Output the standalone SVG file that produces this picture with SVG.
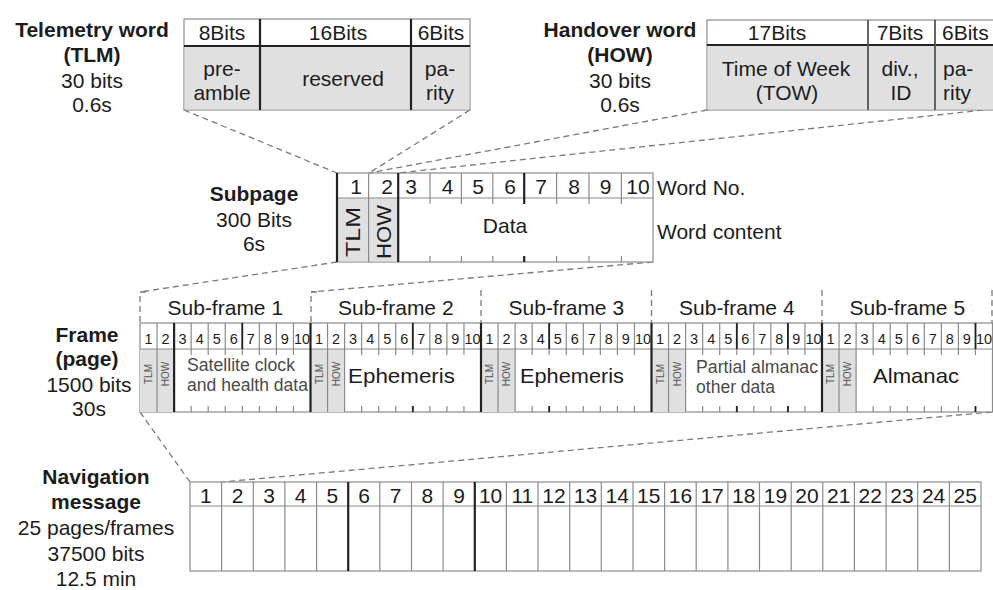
<svg xmlns="http://www.w3.org/2000/svg" xmlns:xlink="http://www.w3.org/1999/xlink" width="993" height="590" viewBox="0 0 993 590">
  <style>
    text { font-family: "Liberation Sans", Arial, sans-serif; fill: #1c1c1c; }
    .b { font-weight: bold; }
    .f21 { font-size: 21px; }
    .c { text-anchor: middle; }
    .sm { font-size: 14.5px; fill: #444; }
    .tiny { font-size: 10px; fill: #555; }
    .grey { fill: #4a4a4a; }
    .thin { stroke: #8a8a8a; stroke-width: 1.2; fill: none; }
    .thick { stroke: #222; stroke-width: 2.2; fill: none; }
    .dash { stroke: #7a7a7a; stroke-width: 1.3; stroke-dasharray: 6 4; fill: none; }
    .shade { fill: #e0e0e0; }
    .box { fill: #fff; stroke: #8a8a8a; stroke-width: 1.2; }
  </style>

  <defs>
    <!-- one sub-frame: ten word cells, TLM/HOW shading, ticks and word numbers -->
    <g id="subframe-grid">
      <rect x="0" y="349" width="34.1" height="63" class="shade"/>
      <path class="thin" d="M17.05 323V412M34.1 323V412M51.15 323V355M68.2 323V355M85.25 323V355M102.3 323V355M119.35 323V355M136.4 323V355M153.45 323V355M51.15 406V412M68.2 406V412M85.25 406V412M102.3 406V412M119.35 406V412M136.4 406V412M153.45 406V412"/>
      <g class="sm c">
        <text x="8.5" y="344">1</text>
        <text x="25.6" y="344">2</text>
        <text x="42.6" y="344">3</text>
        <text x="59.7" y="344">4</text>
        <text x="76.7" y="344">5</text>
        <text x="93.8" y="344">6</text>
        <text x="110.8" y="344">7</text>
        <text x="127.9" y="344">8</text>
        <text x="144.9" y="344">9</text>
        <text x="162" y="344">10</text>
      </g>
      <text class="tiny c" transform="translate(12 374) rotate(-90)">TLM</text>
      <text class="tiny c" transform="translate(29.1 374) rotate(-90)">HOW</text>
    </g>
  </defs>

  <!-- dashed expansion lines -->
  <g id="connectors">
    <path class="dash" d="M184 110L337 173"/>
    <path class="dash" d="M470 110L369 173"/>
    <path class="dash" d="M707 110L369 173"/>
    <path class="dash" d="M993 109L398 173"/>
    <path class="dash" d="M337 262L140 292"/>
    <path class="dash" d="M653 262L311 292"/>
    <path class="dash" d="M140 412L190 482"/>
    <path class="dash" d="M992 412L222 482"/>
    <!-- sub-frame brackets -->
    <path class="dash" d="M146 292H140V323M317 292H311V323M481 290V323M651.5 290V323M822 290V323M992 290V323"/>
  </g>

  <!-- Telemetry word -->
  <g id="tlm-label" class="f21 c">
    <text x="92" y="37" class="b">Telemetry word</text>
    <text x="92" y="62" class="b">(TLM)</text>
    <text x="92" y="88">30 bits</text>
    <text x="92" y="112">0.6s</text>
  </g>
  <g id="tlm-word">
    <rect x="184" y="19" width="286" height="91" class="box"/>
    <rect x="184.6" y="46" width="284.8" height="63.4" class="shade"/>
    <path class="thick" d="M184 46H470M260 19V110M411 19V110"/>
    <g class="f21 c">
      <text x="222" y="40">8Bits</text>
      <text x="338" y="40">16Bits</text>
      <text x="441" y="40">6Bits</text>
      <text x="222" y="76">pre-</text>
      <text x="222" y="100">amble</text>
      <text x="343" y="86">reserved</text>
      <text x="440" y="76">pa-</text>
      <text x="440" y="100">rity</text>
    </g>
  </g>

  <!-- Handover word -->
  <g id="how-label" class="f21 c">
    <text x="620" y="37" class="b">Handover word</text>
    <text x="620" y="62" class="b">(HOW)</text>
    <text x="620" y="88">30 bits</text>
    <text x="620" y="112">0.6s</text>
  </g>
  <g id="how-word">
    <rect x="707" y="20" width="292" height="90" class="box"/>
    <rect x="707.6" y="45" width="290" height="64.4" class="shade"/>
    <path class="thick" d="M707 45H999"/>
    <path stroke="#555" stroke-width="1.8" d="M868 20V110M935 20V110"/>
    <g class="f21">
      <text x="777" y="40" class="c">17Bits</text>
      <text x="900" y="40" class="c">7Bits</text>
      <text x="942" y="40">6Bits</text>
      <text x="786" y="76" class="c">Time of Week</text>
      <text x="787" y="100" class="c">(TOW)</text>
      <text x="900" y="76" class="c">div.,</text>
      <text x="901" y="100" class="c">ID</text>
      <text x="943" y="76">pa-</text>
      <text x="943" y="100">rity</text>
    </g>
  </g>

  <!-- Subpage -->
  <g id="subpage-label" class="f21 c">
    <text x="254" y="201" class="b">Subpage</text>
    <text x="254" y="227">300 Bits</text>
    <text x="254" y="251">6s</text>
  </g>
  <g id="subpage">
    <rect x="337" y="173" width="316" height="89" class="box"/>
    <rect x="337.6" y="198" width="60.4" height="63.4" class="shade"/>
    <path class="thin" d="M337 198H653M368.6 173V262M430 173V204M461.4 173V204M492.8 173V204M556.6 173V204M589 173V204M621.4 173V204M430 256V262M461.4 256V262M492.8 256V262M556.6 256V262M589 256V262M621.4 256V262"/>
    <path class="thick" d="M337 173V262M398.2 173V262M524.2 173V204M524.2 256V262"/>
    <g class="f21 c">
      <text x="356" y="194">1</text>
      <text x="387" y="194">2</text>
      <text x="411" y="194">3</text>
      <text x="447.6" y="194">4</text>
      <text x="478" y="194">5</text>
      <text x="510" y="194">6</text>
      <text x="541" y="194">7</text>
      <text x="574" y="194">8</text>
      <text x="605.6" y="194">9</text>
      <text x="638" y="194">10</text>
      <text x="505" y="233">Data</text>
      <text transform="translate(360 232) rotate(-90)" textLength="50" lengthAdjust="spacingAndGlyphs">TLM</text>
      <text transform="translate(391 232) rotate(-90)" textLength="54" lengthAdjust="spacingAndGlyphs">HOW</text>
    </g>
    <text x="657" y="195" class="f21">Word No.</text>
    <text x="657" y="239" class="f21">Word content</text>
  </g>

  <!-- Frame (page) -->
  <g id="frame-label" class="f21 c">
    <text x="87" y="342" class="b">Frame</text>
    <text x="87" y="366" class="b">(page)</text>
    <text x="89" y="392">1500 bits</text>
    <text x="89" y="416">30s</text>
  </g>
  <g id="frame">
    <rect x="140" y="323" width="852.5" height="89" class="box"/>
    <g class="f21 c">
      <text x="225.3" y="315">Sub-frame 1</text>
      <text x="395.8" y="315">Sub-frame 2</text>
      <text x="566.3" y="315">Sub-frame 3</text>
      <text x="736.8" y="315">Sub-frame 4</text>
      <text x="907.3" y="315">Sub-frame 5</text>
    </g>
    <g id="sub-frame-1"><use xlink:href="#subframe-grid" x="140"/>
      <text x="187" y="371" class="grey" font-size="17.5" textLength="108" lengthAdjust="spacingAndGlyphs">Satellite clock</text>
      <text x="187" y="391" class="grey" font-size="17.5" textLength="121" lengthAdjust="spacingAndGlyphs">and health data</text>
    </g>
    <g id="sub-frame-2"><use xlink:href="#subframe-grid" x="310.5"/>
      <text x="348" y="383" font-size="21" textLength="107" lengthAdjust="spacingAndGlyphs">Ephemeris</text>
    </g>
    <g id="sub-frame-3"><use xlink:href="#subframe-grid" x="481"/>
      <text x="520" y="383" font-size="21" textLength="104" lengthAdjust="spacingAndGlyphs">Ephemeris</text>
    </g>
    <g id="sub-frame-4"><use xlink:href="#subframe-grid" x="651.5"/>
      <text x="696" y="373" class="grey" font-size="17.5" textLength="122" lengthAdjust="spacingAndGlyphs">Partial almanac</text>
      <text x="696" y="393" class="grey" font-size="17.5" textLength="79" lengthAdjust="spacingAndGlyphs">other data</text>
    </g>
    <g id="sub-frame-5"><use xlink:href="#subframe-grid" x="822"/>
      <text x="873" y="383" font-size="21" textLength="86" lengthAdjust="spacingAndGlyphs">Almanac</text>
    </g>
    <path class="thin" d="M140 349H992.5"/>
    <path class="thick" d="M310.5 323V412M481 323V412M651.5 323V412M822 323V412M174.1 323V412"/>
    <path stroke="#222" stroke-width="1.8" d="M242.3 323V349M412.8 323V349M412.8 406V412M549.2 323V349M549.2 406V412M736.8 323V349M736.8 406V412M787.9 323V349M787.9 406V412M975.5 323V349M975.5 406V412"/>
  </g>

  <!-- Navigation message -->
  <g id="nav-label" class="f21 c">
    <text x="96" y="484" class="b">Navigation</text>
    <text x="96" y="509" class="b">message</text>
    <text x="96" y="535">25 pages/frames</text>
    <text x="96" y="561">37500 bits</text>
    <text x="96" y="586">12.5 min</text>
  </g>
  <g id="nav-message">
    <rect x="190" y="482" width="791" height="89" class="box"/>
    <path class="thin" d="M190 506H981M221.6 482V571M253.3 482V571M284.9 482V571M316.6 482V571M379.8 482V571M411.5 482V571M443.1 482V571M506.4 482V571M538 482V571M569.7 482V571M601.3 482V571M633 482V571M664.6 482V571M696.2 482V571M727.9 482V571M759.5 482V571M791.2 482V571M822.8 482V571M854.4 482V571M886.1 482V571M917.7 482V571M949.4 482V571"/>
    <path class="thick" d="M348.2 482V571M474.8 482V571"/>
    <g class="f21 c">
      <text x="205.8" y="503">1</text>
      <text x="237.5" y="503">2</text>
      <text x="269.1" y="503">3</text>
      <text x="300.7" y="503">4</text>
      <text x="332.4" y="503">5</text>
      <text x="364" y="503">6</text>
      <text x="395.7" y="503">7</text>
      <text x="427.3" y="503">8</text>
      <text x="459" y="503">9</text>
      <text x="490.6" y="503">10</text>
      <text x="522.3" y="503">11</text>
      <text x="553.9" y="503">12</text>
      <text x="585.5" y="503">13</text>
      <text x="617.2" y="503">14</text>
      <text x="648.8" y="503">15</text>
      <text x="680.5" y="503">16</text>
      <text x="712.1" y="503">17</text>
      <text x="743.8" y="503">18</text>
      <text x="775.4" y="503">19</text>
      <text x="807" y="503">20</text>
      <text x="838.7" y="503">21</text>
      <text x="870.3" y="503">22</text>
      <text x="902" y="503">23</text>
      <text x="933.6" y="503">24</text>
      <text x="965.3" y="503">25</text>
    </g>
  </g>
</svg>
